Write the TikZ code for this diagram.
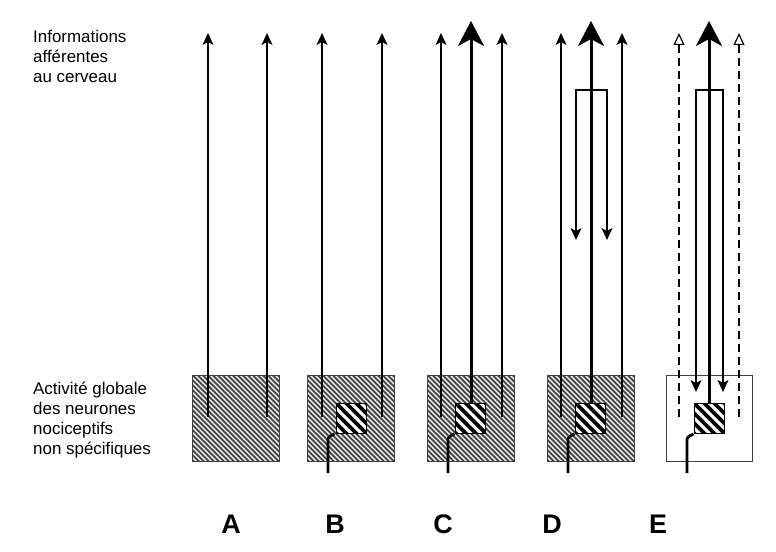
\documentclass[tikz,border=0pt]{standalone}
\usepackage{fontspec}
\setmainfont{Liberation Sans}
\usetikzlibrary{arrows.meta}
\tikzset{
  bighatch/.style={path picture={\foreach \i in {-100,-95,...,100}
      \draw[line width=1.9bp, black!72, shift={(path picture bounding box.center)}] (\i-50,-50) -- (\i+50,50);}},
  smallhatch/.style={path picture={\foreach \i in {-40,-30,...,40}
      \draw[line width=3.6bp, black, shift={(path picture bounding box.center)}] (\i-20,-20) -- (\i+20,20);}},
  bigbox/.style={draw=black!75, line width=1bp, minimum width=87bp, minimum height=86bp, inner sep=0pt, fill=white, bighatch},
  whitebox/.style={draw=black!75, line width=1bp, minimum width=86bp, minimum height=86bp, inner sep=0pt, fill=white},
  sqbox/.style={draw=black, line width=1bp, minimum width=30bp, minimum height=30bp, inner sep=0pt, fill=white, smallhatch},
  thinarrow/.style={line width=1.3bp, -{Stealth[length=12bp,width=11bp,inset=3bp]}},
  bigarrow/.style={line width=3bp, -{Stealth[length=25bp,width=26bp,inset=7bp]}},
  loopback/.style={line width=1.4bp, {Stealth[length=12bp,width=11bp,inset=3bp]}-{Stealth[length=12bp,width=11bp,inset=3bp]}},
  dasharrow/.style={line width=1.6bp, dash pattern=on 8bp off 5bp, -{Triangle[open,length=12bp,width=11bp,line width=1.2bp]}},
  hookline/.style={line width=2.8bp, line cap=butt},
  lab/.style={font=\fontsize{17}{20}\selectfont, align=left, inner sep=0pt, anchor=north west},
  letter/.style={font=\fontsize{27}{27}\selectfont\bfseries, inner sep=0pt, anchor=base}
}
\begin{document}
\begin{tikzpicture}[x=1bp,y=-1bp]
\useasboundingbox (0,0) rectangle (776,552);
% labels
\node[lab] (t1) at (33,30) {Informations\\afférentes\\au cerveau};
\node[lab] (t2) at (33,382) {Activité globale\\des neurones\\nociceptifs\\non spécifiques};
% boxes
\node[bigbox] (boxA) at (235.5,418) {};
\node[bigbox] (boxB) at (350.5,418) {};
\node[bigbox] (boxC) at (470.5,418) {};
\node[bigbox] (boxD) at (590.5,418) {};
\node[whitebox] (boxE) at (709,418) {};
% A
\coordinate (a1b) at (208,417); \coordinate (a1t) at (208,33);
\coordinate (a2b) at (267,417); \coordinate (a2t) at (267,33);
\draw[thinarrow] (a1b) -- (a1t);
\draw[thinarrow] (a2b) -- (a2t);
% B
\coordinate (b1b) at (322,417); \coordinate (b1t) at (322,33);
\coordinate (b2b) at (382,417); \coordinate (b2t) at (382,33);
\draw[thinarrow] (b1b) -- (b1t);
\draw[thinarrow] (b2b) -- (b2t);
\node[sqbox] (sqB) at (351,418) {};
\coordinate (hB) at (328,473); \coordinate (hBe) at (334.5,434);
\draw[hookline] (hB) -- ++(0,-31) .. controls +(0,-5) .. (hBe);
% C
\coordinate (c1b) at (441,417); \coordinate (c1t) at (441,33);
\coordinate (c2b) at (502,417); \coordinate (c2t) at (502,33);
\coordinate (cct) at (471,21);
\draw[thinarrow] (c1b) -- (c1t);
\draw[thinarrow] (c2b) -- (c2t);
\node[sqbox] (sqC) at (470.5,418) {};
\draw[bigarrow] (sqC.north -| cct) -- (cct);
\coordinate (hC) at (448,473); \coordinate (hCe) at (454.5,434);
\draw[hookline] (hC) -- ++(0,-31) .. controls +(0,-5) .. (hCe);
% D
\coordinate (d1b) at (561,417); \coordinate (d1t) at (561,33);
\coordinate (d2b) at (622,417); \coordinate (d2t) at (622,33);
\coordinate (dct) at (591,21);
\draw[thinarrow] (d1b) -- (d1t);
\draw[thinarrow] (d2b) -- (d2t);
\coordinate (dl) at (576,240); \coordinate (dlt) at (576,90);
\coordinate (dr) at (607,240); \coordinate (drt) at (607,90);
\draw[loopback] (dl) -- (dlt) -- (drt) -- (dr);
\node[sqbox] (sqD) at (590.5,418) {};
\draw[bigarrow] (sqD.north -| dct) -- (dct);
\coordinate (hD) at (568,473); \coordinate (hDe) at (574.5,434);
\draw[hookline] (hD) -- ++(0,-31) .. controls +(0,-5) .. (hDe);
% E
\coordinate (e1b) at (679,417); \coordinate (e1t) at (679,33);
\coordinate (e2b) at (739,417); \coordinate (e2t) at (739,33);
\coordinate (ect) at (709,21);
\draw[dasharrow] (e1b) -- (e1t);
\draw[dasharrow] (e2b) -- (e2t);
\coordinate (el) at (696,392); \coordinate (elt) at (696,90);
\coordinate (er) at (723,392); \coordinate (ert) at (723,90);
\draw[loopback] (el) -- (elt) -- (ert) -- (er);
\node[sqbox] (sqE) at (709,418) {};
\draw[bigarrow] (sqE.north -| ect) -- (ect);
\coordinate (hE) at (687,473); \coordinate (hEe) at (693.5,434);
\draw[hookline] (hE) -- ++(0,-31) .. controls +(0,-5) .. (hEe);
% letters
\node[letter] (LA) at (231,533) {A};
\node[letter] (LB) at (335,533) {B};
\node[letter] (LC) at (443,533) {C};
\node[letter] (LD) at (552,533) {D};
\node[letter] (LE) at (658,533) {E};
\end{tikzpicture}
\end{document}
